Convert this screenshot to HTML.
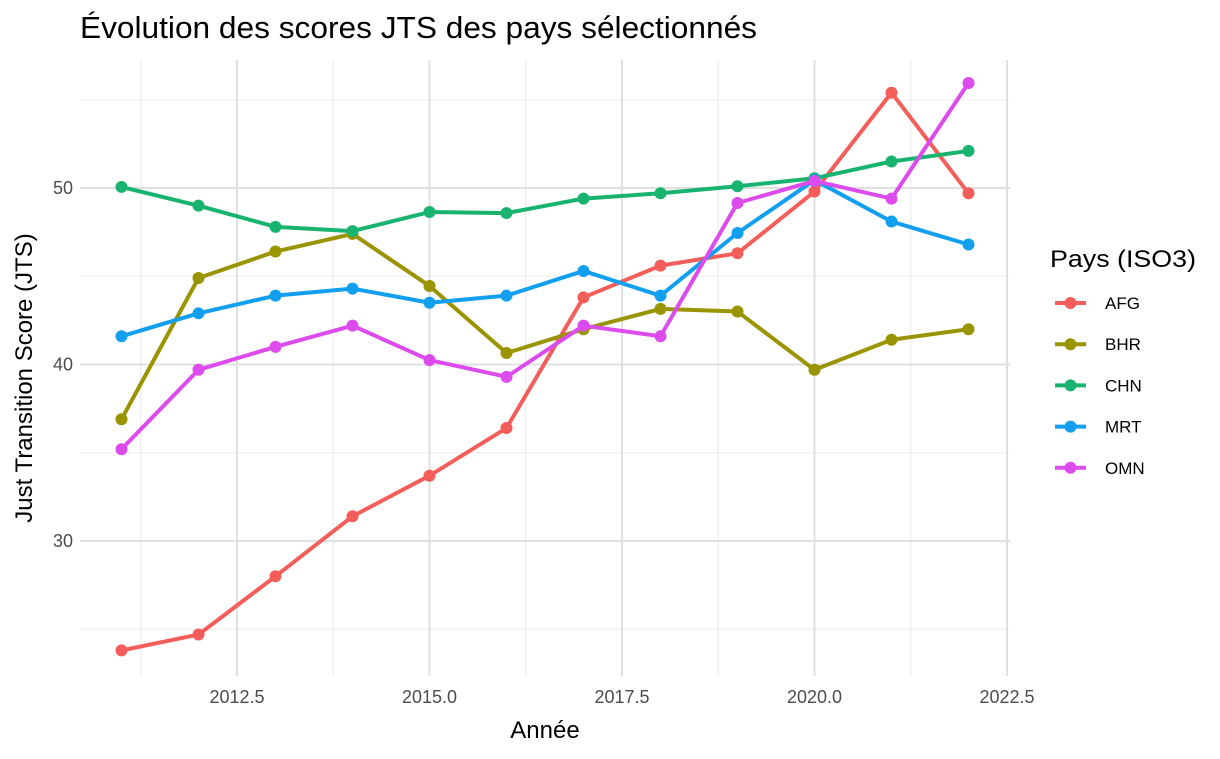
<!DOCTYPE html>
<html><head><meta charset="utf-8"><style>
body{margin:0;background:#fff;font-family:"Liberation Sans",Arial,sans-serif;}
svg text{font-family:"Liberation Sans",Arial,sans-serif;}
</style></head><body>
<svg id="chart" width="1220" height="754" viewBox="0 0 1220 754" xmlns="http://www.w3.org/2000/svg">
<text x="80" y="38" font-size="31" fill="#000" textLength="677" lengthAdjust="spacingAndGlyphs">Évolution des scores JTS des pays sélectionnés</text>
<g id="grid"></g>
<g id="series"></g>
<g id="axes"></g>
<text transform="translate(32,378) rotate(-90)" text-anchor="middle" font-size="24" fill="#000">Just Transition Score (JTS)</text>
<text x="545" y="738" text-anchor="middle" font-size="24" fill="#000">Année</text>
<g id="legend">
<text x="1050" y="267" font-size="24" fill="#000" textLength="146" lengthAdjust="spacingAndGlyphs">Pays (ISO3)</text>
</g>
</svg>
<script>
const years=[2011,2012,2013,2014,2015,2016,2017,2018,2019,2020,2021,2022];
const countries=["AFG","BHR","CHN","MRT","OMN"];
const colors=["#F35E5A","#999400","#18B46F","#129FEF","#DC4BEB"];
const AFG=[23.8,24.7,28.0,31.4,33.7,36.4,43.8,45.6,46.3,49.8,55.4,49.7];
const BHR=[36.9,44.9,46.4,47.4,44.45,40.65,42.0,43.15,43.0,39.7,41.4,42.0];
const CHN=[50.06,49.0,47.8,47.56,48.64,48.58,49.4,49.7,50.1,50.55,51.5,52.1];
const MRT=[41.6,42.9,43.9,44.3,43.5,43.9,45.3,43.9,47.45,50.45,48.1,46.8];
const OMN=[35.2,39.7,41.0,42.2,40.25,39.3,42.2,41.6,49.15,50.4,49.4,55.95];
const xTicks=[2012.5,2015.0,2017.5,2020.0,2022.5];
const xTickLabels=["2012.5","2015.0","2017.5","2020.0","2022.5"];
const yTicks=[30,40,50];
const yTickLabels=["30","40","50"];
const xMinor=[2011.25,2013.75,2016.25,2018.75,2021.25];
const yMinor=[25,35,45,55];
const seriesData=[AFG,BHR,CHN,MRT,OMN];

const NS="http://www.w3.org/2000/svg";
const X=v=>121.5+(v-2011)*77;
const Y=v=>541-(v-30)*17.65;
const PL=80,PR=1010,PT=60,PB=676;
function mk(tag,attrs,parent){const e=document.createElementNS(NS,tag);for(const k in attrs)e.setAttribute(k,attrs[k]);parent.appendChild(e);return e;}
const grid=document.getElementById('grid'),axes=document.getElementById('axes'),ser=document.getElementById('series'),leg=document.getElementById('legend');
xMinor.forEach(v=>{const l=mk('line',{x1:X(v),x2:X(v),y1:PT,y2:PB,stroke:'#ebebeb','stroke-width':1.1},grid);

});
yMinor.forEach(v=>{const l=mk('line',{x1:PL,x2:PR,y1:Y(v),y2:Y(v),stroke:'#ebebeb','stroke-width':1.1},grid);

});
xTicks.forEach((v,i)=>{const l=mk('line',{x1:X(v),x2:X(v),y1:PT,y2:PB,stroke:'#e0e0e0','stroke-width':2},grid);


const t=mk('text',{x:X(v),y:703,'text-anchor':'middle','font-size':18,fill:'#4d4d4d'},axes);t.textContent=xTickLabels[i];

});
yTicks.forEach((v,i)=>{const l=mk('line',{x1:PL,x2:PR,y1:Y(v),y2:Y(v),stroke:'#e0e0e0','stroke-width':2},grid);


const t=mk('text',{x:73,y:Y(v)+6,'text-anchor':'end','font-size':18,fill:'#4d4d4d'},axes);t.textContent=yTickLabels[i];

});
seriesData.forEach((d,si)=>{
 const g=mk('g',{},ser);
 
 
 const p=mk('polyline',{points:d.map((v,i)=>X(years[i])+','+Y(v)).join(' '),fill:'none',stroke:colors[si],'stroke-width':4,'stroke-linejoin':'round'},g);
 
 
 d.forEach((v,i)=>{const c=mk('circle',{cx:X(years[i]),cy:Y(v),r:6,fill:colors[si]},g);
 
 });
 const ly=303+si*41.2;
 const le=mk('g',{},leg);
 
 
 mk('line',{x1:1055,x2:1086,y1:ly,y2:ly,stroke:colors[si],'stroke-width':4},le);
 mk('circle',{cx:1070.5,cy:ly,r:6,fill:colors[si]},le);
 const t=mk('text',{x:1105,y:ly+6,'font-size':17,fill:'#000'},le);t.textContent=countries[si];
});
</script>
</body></html>
